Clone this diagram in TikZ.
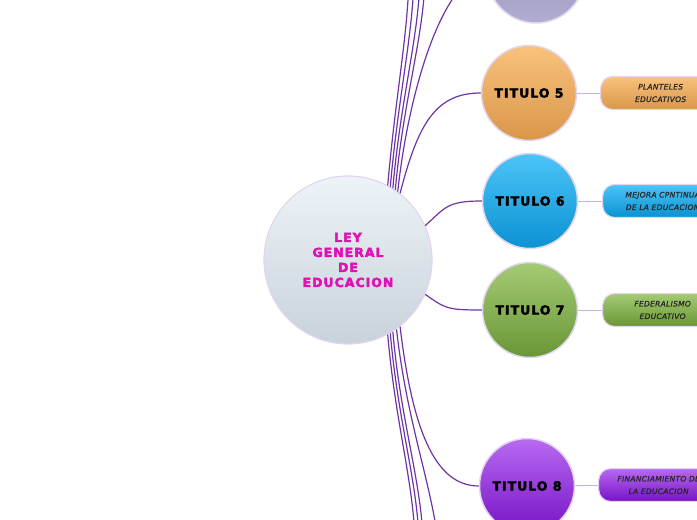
\documentclass[tikz,border=0pt]{standalone}
\usepackage{fontspec}
\usetikzlibrary{positioning}
\newfontfamily\headfont[LetterSpace=8,FakeBold=3]{DejaVu Sans}
\newfontfamily\notefont[LetterSpace=4,FakeBold=0.8]{DejaVu Sans}
\definecolor{branch}{HTML}{6E34A6}
\definecolor{twig}{HTML}{C9B3E2}
\definecolor{rim}{HTML}{E2D6EE}
\definecolor{title}{HTML}{E010B4}
\definecolor{hubtop}{HTML}{EDF4F8}
\definecolor{hubbot}{HTML}{C8D2DA}
\definecolor{lilactop}{HTML}{8C88B4}
\definecolor{lilacbot}{HTML}{B2AED2}
\definecolor{ambertop}{HTML}{F9C27C}
\definecolor{amberbot}{HTML}{D9964A}
\definecolor{skytop}{HTML}{4CC4F8}
\definecolor{skybot}{HTML}{0A92D2}
\definecolor{mosstop}{HTML}{A4CB74}
\definecolor{mossbot}{HTML}{6A9636}
\definecolor{violettop}{HTML}{B86AF2}
\definecolor{violetbot}{HTML}{7612C4}
\tikzset{
  trunk/.style={line width=1.2pt,draw=branch},
  sprig/.style={line width=0.9pt,draw=twig},
  hub/.style={circle,minimum size=168pt,draw=rim,line width=1.2pt,
    top color=hubtop,bottom color=hubbot,text=title,align=center,
    font=\headfont\bfseries\fontsize{12.5}{15}\selectfont},
  topic/.style={circle,minimum size=95pt,draw=rim,line width=1.5pt,
    top color=#1top,bottom color=#1bot,text=black,
    font=\headfont\bfseries\fontsize{12.5}{14}\selectfont},
  leaf/.style={rounded corners=12pt,minimum width=120pt,minimum height=33pt,
    draw=rim,line width=1.2pt,top color=#1top,bottom color=#1bot,
    anchor=west,align=center,inner sep=2pt,text=black!85,
    font=\notefont\itshape\fontsize{7.5}{12.5}\selectfont}
}

\begin{document}
\begin{tikzpicture}[x=1pt,y=-1pt]
\useasboundingbox (0,0) rectangle (697,520);
\clip (0,0) rectangle (697,520);
\node[hub] (law) at (348,260) {LEY\\GENERAL\\DE\\EDUCACION};
\node[topic=lilac,minimum size=98pt] (t4) at (536,-26) {};
\node[topic=amber] (t5) at (529,93) {TITULO 5};
\node[topic=sky] (t6) at (530,201) {TITULO 6};
\node[topic=moss] (t7) at (530,310) {TITULO 7};
\node[topic=violet] (t8) at (527,486) {TITULO 8};
\node[leaf=amber] (s5) at (600,93) {PLANTELES\\EDUCATIVOS};
\node[leaf=sky] (s6) at (602,201) {MEJORA CPNTINUA\\DE LA EDUCACION};
\node[leaf=moss] (s7) at (602,310) {FEDERALISMO\\EDUCATIVO};
\node[leaf=violet] (s8) at (598,485) {FINANCIAMIENTO DE\\LA EDUCACION};
% branches that leave the page
\coordinate (up1) at (409,-20);
\coordinate (up2) at (414,-20);
\coordinate (up3) at (420,-20);
\coordinate (up4) at (425,-20);
\coordinate (dn1) at (415,540);
\coordinate (dn2) at (419,540);
\coordinate (dn3) at (423,540);
\coordinate (dn4) at (438,540);
\draw[trunk] (law.62) .. controls +(8,-90) and +(-2,60) .. (up1);
\draw[trunk] (law.60) .. controls +(8,-90) and +(-2,60) .. (up2);
\draw[trunk] (law.58) .. controls +(8,-90) and +(-2,60) .. (up3);
\draw[trunk] (law.56) .. controls +(8,-90) and +(-2,60) .. (up4);
\draw[trunk] (law.54) .. controls +(12,-110) and +(-40,0) .. (t4.west);
\draw[trunk] (law.52) .. controls +(18,-70) and +(-45,0) .. (t5.west);
\draw[trunk] (law.24) .. controls +(20,-18) and +(-35,0) .. (t6.west);
\draw[trunk] (law.-24) .. controls +(20,14) and +(-35,0) .. (t7.west);
\draw[trunk] (law.-52) .. controls +(12,100) and +(-45,0) .. (t8.west);
\draw[trunk] (law.-62) .. controls +(8,90) and +(-2,-60) .. (dn1);
\draw[trunk] (law.-60) .. controls +(8,90) and +(-2,-60) .. (dn2);
\draw[trunk] (law.-58) .. controls +(8,90) and +(-2,-60) .. (dn3);
\draw[trunk] (law.-55) .. controls +(10,90) and +(-8,-60) .. (dn4);
\draw[sprig] (t5) -- (s5);
\draw[sprig] (t6) -- (s6);
\draw[sprig] (t7) -- (s7);
\draw[sprig] (t8) -- (s8);
\end{tikzpicture}
\end{document}
